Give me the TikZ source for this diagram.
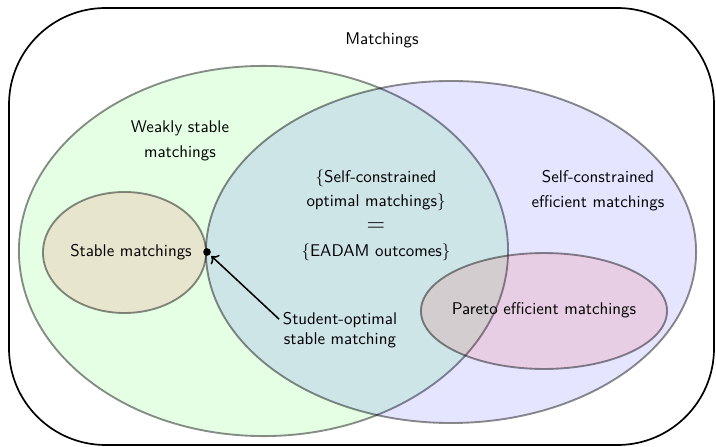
\documentclass[tikz,border=0pt]{standalone}
\usetikzlibrary{arrows.meta}
\begin{document}
\begin{tikzpicture}[x=0.59pt,y=-0.59pt,
  font=\sffamily\fontsize{10}{14.6}\selectfont,
  setline/.style={draw=black,draw opacity=0.45,line width=1.1pt},
  lbl/.style={align=center,inner sep=0pt}]
\useasboundingbox (0,0) rectangle (716,447);
\draw[line width=1pt, rounded corners=57pt] (9,8) rectangle (714,445);
% sets
\fill[green, fill opacity=0.1] (263.5,251) ellipse [x radius=144.3pt, y radius=109.2pt];
\draw[setline] (263.5,251) ellipse [x radius=144.3pt, y radius=109.2pt];
\fill[blue, fill opacity=0.1] (451,252) ellipse [x radius=144.6pt, y radius=100.9pt];
\draw[setline] (451,252) ellipse [x radius=144.6pt, y radius=100.9pt];
\fill[red, fill opacity=0.1] (124.5,252.5) ellipse [x radius=48.1pt, y radius=35.7pt];
\draw[setline] (124.5,252.5) ellipse [x radius=48.1pt, y radius=35.7pt];
\fill[red, fill opacity=0.1] (544,311) ellipse [x radius=72.6pt, y radius=34.2pt];
\draw[setline] (544,311) ellipse [x radius=72.6pt, y radius=34.2pt];
% labels
\node[lbl] (all) at (382,40) {Matchings};
\node[lbl] (weak) at (180,140.5) {Weakly stable\\matchings};
\node[lbl] (scom) at (376,215) {$\{$Self-constrained\\optimal matchings$\}$\\{\Large$=$}\\$\{$EADAM outcomes$\}$};
\node[lbl] (sce) at (598,190.5) {Self-constrained\\efficient matchings};
\node[lbl] (st) at (131,252) {Stable matchings};
\node[lbl] (par) at (544,310) {Pareto efficient matchings};
\node[lbl, font=\sffamily\fontsize{10}{11.8}\selectfont, inner sep=2pt] (stud) at (340,330) {Student-optimal\\stable matching};
\node[circle, fill=black, inner sep=0pt, minimum size=4.5pt] (dot) at (207,252) {};
\draw[line width=0.9pt, ->, shorten >=1pt] (stud.170) -- (dot);
\end{tikzpicture}
\end{document}
